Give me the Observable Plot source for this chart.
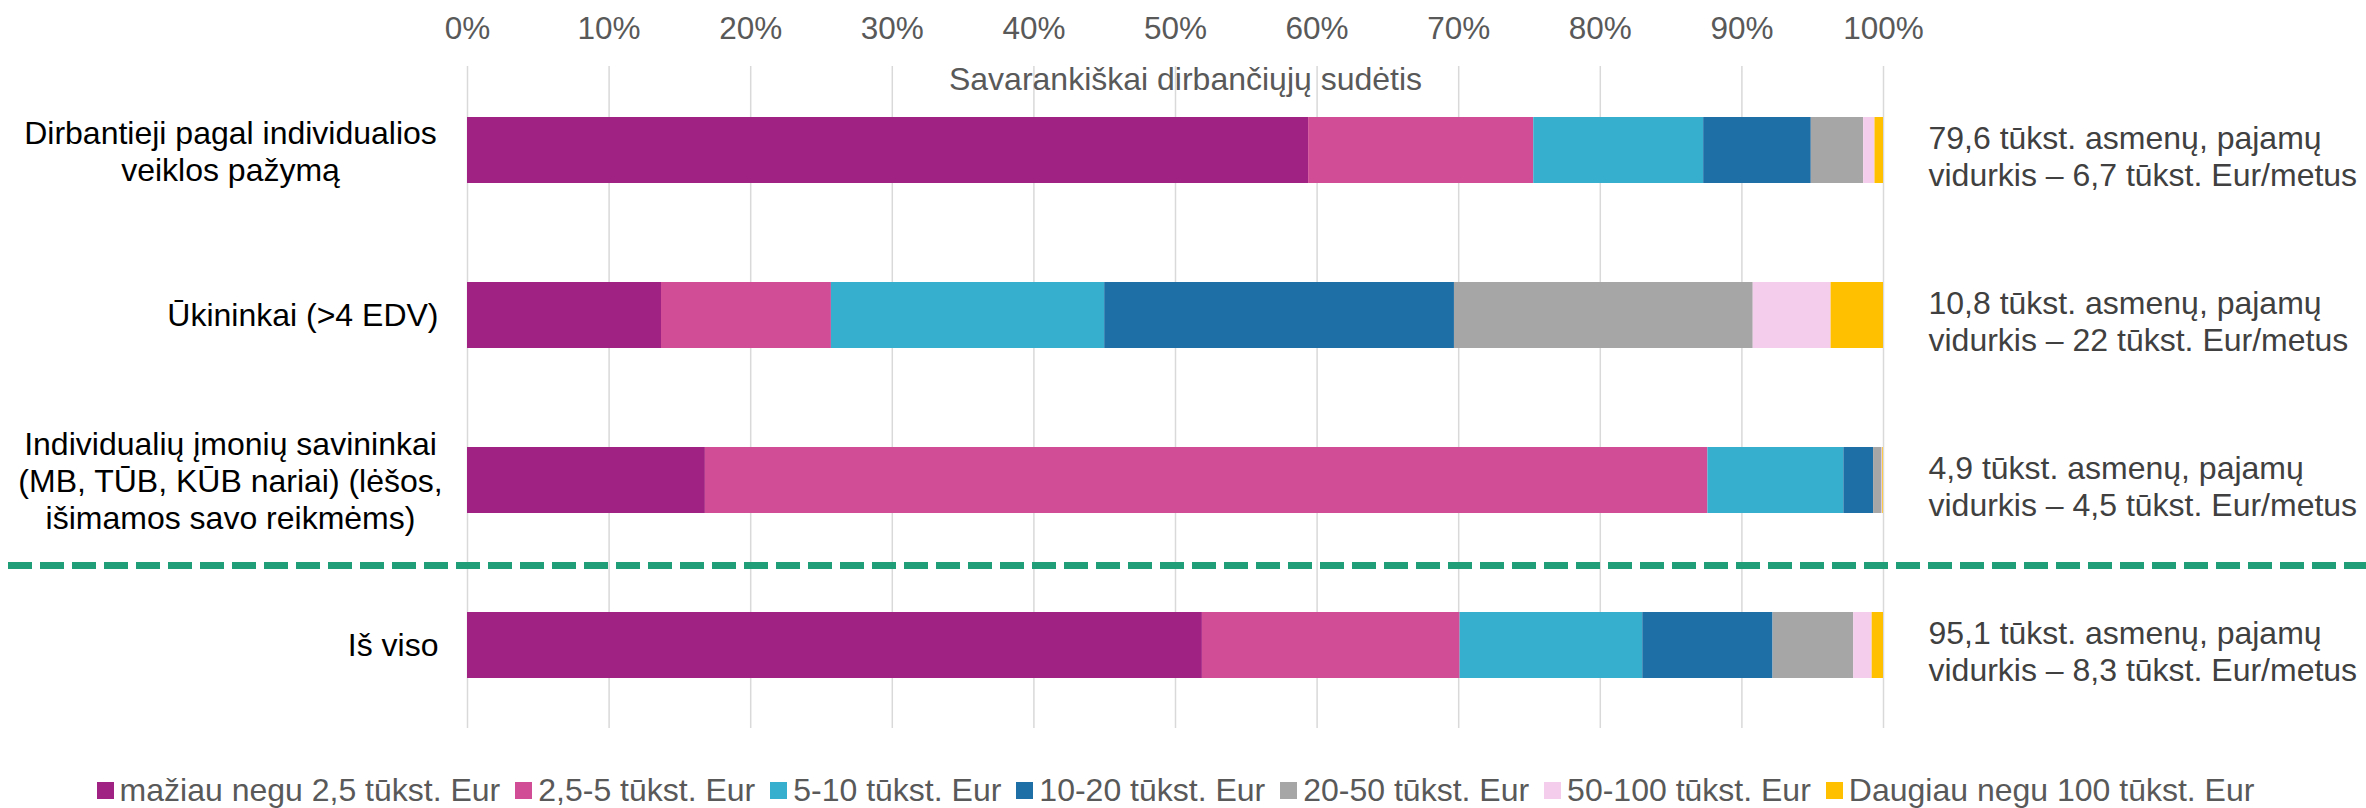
<!DOCTYPE html>
<html><head><meta charset="utf-8">
<script src="https://cdn.jsdelivr.net/npm/d3@7"></script>
<script src="https://cdn.jsdelivr.net/npm/@observablehq/plot@0.6"></script>
<style>
body{margin:0;background:#fff;}
#chart{width:2366px;}
.lg-swatches{font-family:"Liberation Sans",Arial,sans-serif !important;font-size:32px !important;color:#595959 !important;justify-content:center !important;margin:20px 0 0 0 !important;width:2366px;}
.lg-swatch{margin-right:15px !important;}
.lg-swatch > svg{margin-right:6px !important;}
</style></head><body><div id="chart"></div>
<script>
const categories = [
  "Dirbantieji pagal individualios\nveiklos pažymą",
  "Ūkininkai (>4 EDV)",
  "Individualių įmonių savininkai\n(MB, TŪB, KŪB nariai) (lėšos,\nišimamos savo reikmėms)",
  "Iš viso"
];
const bins = ["mažiau negu 2,5 tūkst. Eur", "2,5-5 tūkst. Eur", "5-10 tūkst. Eur", "10-20 tūkst. Eur", "20-50 tūkst. Eur", "50-100 tūkst. Eur", "Daugiau negu 100 tūkst. Eur"];
const colors = ["#A02383", "#D14E96", "#36AECE", "#1F6FA7", "#A6A6A6", "#F5CDEC", "#FFC000"];
const sharesIndividualActivity = [59.4, 15.9, 12.0, 7.6, 3.7, 0.8, 0.6];
const sharesFarmers = [13.7, 12.0, 19.3, 24.7, 21.1, 5.5, 3.7];
const sharesOwners = [16.8, 70.8, 9.6, 2.1, 0.6, 0.05, 0.05];
const sharesTotal = [51.9, 18.2, 12.9, 9.2, 5.7, 1.3, 0.8];
const notes = [
  "79,6 tūkst. asmenų, pajamų\nvidurkis – 6,7 tūkst. Eur/metus",
  "10,8 tūkst. asmenų, pajamų\nvidurkis – 22 tūkst. Eur/metus",
  "4,9 tūkst. asmenų, pajamų\nvidurkis – 4,5 tūkst. Eur/metus",
  "95,1 tūkst. asmenų, pajamų\nvidurkis – 8,3 tūkst. Eur/metus"
];
const xTicks = [0, 10, 20, 30, 40, 50, 60, 70, 80, 90, 100];
const xTickLabels = ["0%", "10%", "20%", "30%", "40%", "50%", "60%", "70%", "80%", "90%", "100%"];
const axisTitle = "Savarankiškai dirbančiųjų sudėtis";
const dividerBefore = "Iš viso";

const allShares = [sharesIndividualActivity, sharesFarmers, sharesOwners, sharesTotal];
const rows = categories.flatMap((c, i) => allShares[i].map((v, j) => ({cat: c, bin: bins[j], value: v})));
const noteRows = categories.map((c, i) => ({cat: c, note: notes[i]}));
const FONT = "Liberation Sans, Arial, sans-serif";

const chart = Plot.plot({
  width: 2366,
  height: 752,
  marginTop: 66,
  marginBottom: 24,
  marginLeft: 467,
  marginRight: 483,
  style: {fontFamily: FONT, fontSize: "32px", background: "#fff", overflow: "visible"},
  x: {domain: [0, 100]},
  y: {domain: categories, paddingInner: 0.6, paddingOuter: 0.3, axis: null},
  color: {domain: bins, range: colors},
  marks: [
    Plot.gridX(xTicks, {stroke: "#D9D9D9", strokeOpacity: 1, strokeWidth: 1.5}),
    Plot.barX(rows, Plot.stackX({x: "value", y: "cat", fill: "bin"})),
    Plot.ruleY([dividerBefore], {y: d => d, dy: -80, stroke: "#1F9E78", strokeWidth: 7, strokeDasharray: "24,8", insetLeft: -459, insetRight: -483}),
    Plot.axisX({anchor: "top", ticks: xTicks, tickFormat: (d) => xTickLabels[xTicks.indexOf(d)], tickSize: 0, tickPadding: 28, fill: "#595959", fontSize: 31.5, label: null}),
    Plot.text([axisTitle], {text: d => d, frameAnchor: "top", lineAnchor: "bottom", dy: 23, dx: 10, fill: "#595959", fontSize: 32}),
    Plot.text(categories.filter(c => c.includes("\n")), {y: d => d, text: d => d, frameAnchor: "left", textAnchor: "middle", dx: -237, lineHeight: 1.15, fill: "#000", fontSize: 32}),
    Plot.text(categories.filter(c => !c.includes("\n")), {y: d => d, text: d => d, frameAnchor: "left", textAnchor: "end", dx: -29, fill: "#000", fontSize: 32}),
    Plot.text(noteRows, {y: "cat", text: "note", frameAnchor: "right", textAnchor: "start", dx: 45, dy: 5, lineHeight: 1.15, fill: "#404040", fontSize: 32})
  ]
});
document.getElementById("chart").appendChild(chart);
const legend = Plot.legend({color: {domain: bins, range: colors}, legend: "swatches", swatchSize: 17, className: "lg"});
document.getElementById("chart").appendChild(legend);
</script></body></html>
